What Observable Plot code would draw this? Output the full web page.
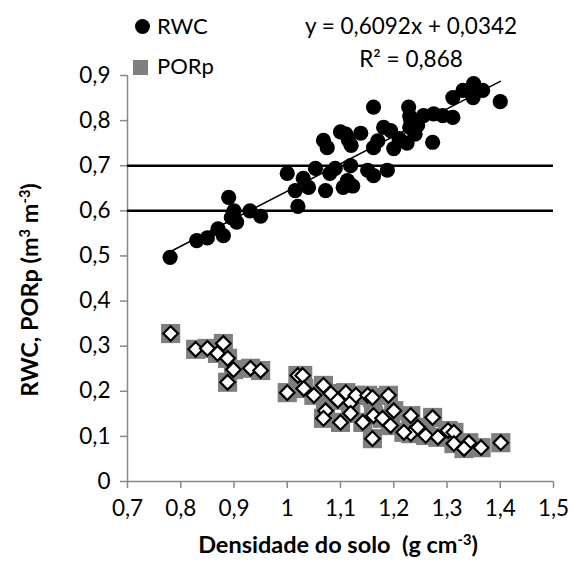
<!DOCTYPE html>
<html><head><meta charset="utf-8">
<script src="https://cdn.jsdelivr.net/npm/d3@7"></script>
<script src="https://cdn.jsdelivr.net/npm/@observablehq/plot@0.6"></script>
<style>
body{margin:0;background:#fff;}
#wrap{position:relative;width:572px;height:562px;font-family:Lato,"Open Sans",sans-serif;color:#000;}
.t{position:absolute;white-space:nowrap;font-size:22px;line-height:1;}
.b{font-weight:bold;font-size:23.5px;}
sup{font-size:0.62em;line-height:0;vertical-align:0.6em;}
</style></head><body><div id="wrap"></div>
<script>
// Densidade do solo (g cm-3), RWC (m3 m-3)
const rwc = [
  [0.78,0.497],[0.83,0.534],[0.85,0.54],[0.87,0.56],[0.88,0.545],[0.89,0.63],[0.895,0.585],[0.90,0.60],[0.905,0.575],[0.93,0.60],[0.95,0.588],
  [1.0,0.683],[1.015,0.645],[1.02,0.61],[1.03,0.672],[1.04,0.652],[1.053,0.694],[1.068,0.756],[1.072,0.645],[1.075,0.74],[1.08,0.683],
  [1.09,0.694],[1.10,0.775],[1.105,0.652],[1.11,0.77],[1.113,0.667],[1.115,0.756],[1.12,0.745],[1.119,0.70],[1.123,0.655],[1.138,0.772],
  [1.151,0.69],[1.162,0.83],[1.162,0.678],[1.162,0.74],[1.17,0.755],[1.181,0.785],[1.188,0.69],[1.194,0.778],[1.2,0.738],[1.21,0.76],
  [1.225,0.75],[1.228,0.83],[1.23,0.81],[1.23,0.785],[1.232,0.80],[1.24,0.77],[1.245,0.79],[1.256,0.811],[1.273,0.752],[1.275,0.815],
  [1.292,0.811],[1.311,0.807],[1.311,0.851],[1.33,0.867],[1.349,0.851],[1.35,0.882],[1.367,0.867],[1.40,0.842]
];
// Densidade do solo (g cm-3), PORp (m3 m-3)
const porp = [
  [0.781,0.328],[0.828,0.293],[0.85,0.295],[0.869,0.284],[0.88,0.306],[0.888,0.273],[0.899,0.248],[0.888,0.22],[0.931,0.251],[0.95,0.246],
  [1.0,0.197],[1.02,0.235],[1.029,0.235],[1.031,0.206],[1.05,0.191],[1.068,0.213],[1.082,0.195],[1.072,0.157],[1.068,0.14],[1.095,0.18],
  [1.10,0.131],[1.11,0.197],[1.119,0.175],[1.129,0.191],[1.119,0.151],[1.142,0.131],[1.151,0.191],[1.16,0.186],[1.162,0.146],[1.179,0.14],
  [1.19,0.191],[1.194,0.124],[1.2,0.157],[1.16,0.095],[1.232,0.146],[1.232,0.106],[1.219,0.109],[1.245,0.12],[1.26,0.102],[1.273,0.142],
  [1.283,0.098],[1.302,0.113],[1.313,0.109],[1.313,0.084],[1.341,0.086],[1.332,0.073],[1.364,0.075],[1.401,0.086]
];
const xTicks = [0.7,0.8,0.9,1.0,1.1,1.2,1.3,1.4,1.5];
const yTicks = [0,0.1,0.2,0.3,0.4,0.5,0.6,0.7,0.8,0.9];
const refLines = [0.6, 0.7];
const slope = 0.6092, intercept = 0.0342;
const equationText = "y = 0,6092x + 0,0342";
const r2Text = "R² = 0,868";

const fmt = d => String(+d.toFixed(1)).replace(".", ",");
const trend = d3.extent(rwc, d => d[0]).map(x => ({x, y: slope * x + intercept}));
const axisGray = "#898989";

const plot = Plot.plot({
  width: 572, height: 562,
  marginTop: 75, marginBottom: 81, marginLeft: 127, marginRight: 19,
  style: {fontFamily: "Lato, 'Open Sans', sans-serif", fontSize: "22px", background: "white", overflow: "visible"},
  x: {domain: [0.7, 1.5]},
  y: {domain: [0, 0.9]},
  marks: [
    Plot.axisX(xTicks, {tickSize: 7, tickPadding: 12, tickFormat: fmt, stroke: axisGray, strokeWidth: 1.5, fill: "black", label: null, fontSize: 22.5}),
    Plot.axisY(yTicks, {tickSize: 7, tickPadding: 10, tickFormat: fmt, stroke: axisGray, strokeWidth: 1.5, fill: "black", label: null, fontSize: 22.5}),
    Plot.ruleY([0], {stroke: axisGray, strokeWidth: 1.5}),
    Plot.ruleX([0.7], {stroke: axisGray, strokeWidth: 1.5}),
    Plot.ruleY(refLines, {stroke: "black", strokeWidth: 2.5}),
    Plot.dot(porp, {x: d => d[0], y: d => d[1], symbol: "square", r: 10.8, fill: "#7f7f7f"}),
    Plot.dot(porp, {x: d => d[0], y: d => d[1], symbol: "diamond2", r: 6.6, fill: "white", stroke: "black", strokeWidth: 2.2}),
    Plot.dot(rwc, {x: d => d[0], y: d => d[1], symbol: "circle", r: 7.6, fill: "black"}),
    Plot.line(trend, {x: "x", y: "y", stroke: "black", strokeWidth: 1.5})
  ]
});
const wrap = document.getElementById("wrap");
wrap.appendChild(plot);
plot.style.position = "absolute"; plot.style.left = "0"; plot.style.top = "0";

function add(html, css, cls = "t") {
  const d = document.createElement("div");
  d.className = cls; d.innerHTML = html;
  Object.assign(d.style, css);
  wrap.appendChild(d);
  return d;
}
// legend
add("", {left: "135px", top: "19px", width: "15px", height: "15px", borderRadius: "50%", background: "black"});
add("RWC", {left: "157px", top: "15px"});
add("", {left: "133px", top: "60px", width: "15px", height: "15px", background: "#7f7f7f"});
add("PORp", {left: "157px", top: "55px"});
// equation
add(equationText, {left: "411px", top: "15px", transform: "translateX(-50%)", fontSize: "22.5px"});
add(r2Text, {left: "411px", top: "48px", transform: "translateX(-50%)", fontSize: "22.5px"});
// axis titles
add("Densidade do solo&nbsp; (g cm<sup>-3</sup>)", {left: "338px", top: "545px", transform: "translate(-50%,-50%)"}, "t b");
add("RWC, PORp (m<sup>3</sup> m<sup>-3</sup>)", {left: "30px", top: "290px", transform: "translate(-50%,-50%) rotate(-90deg)"}, "t b");
</script>
</body></html>
